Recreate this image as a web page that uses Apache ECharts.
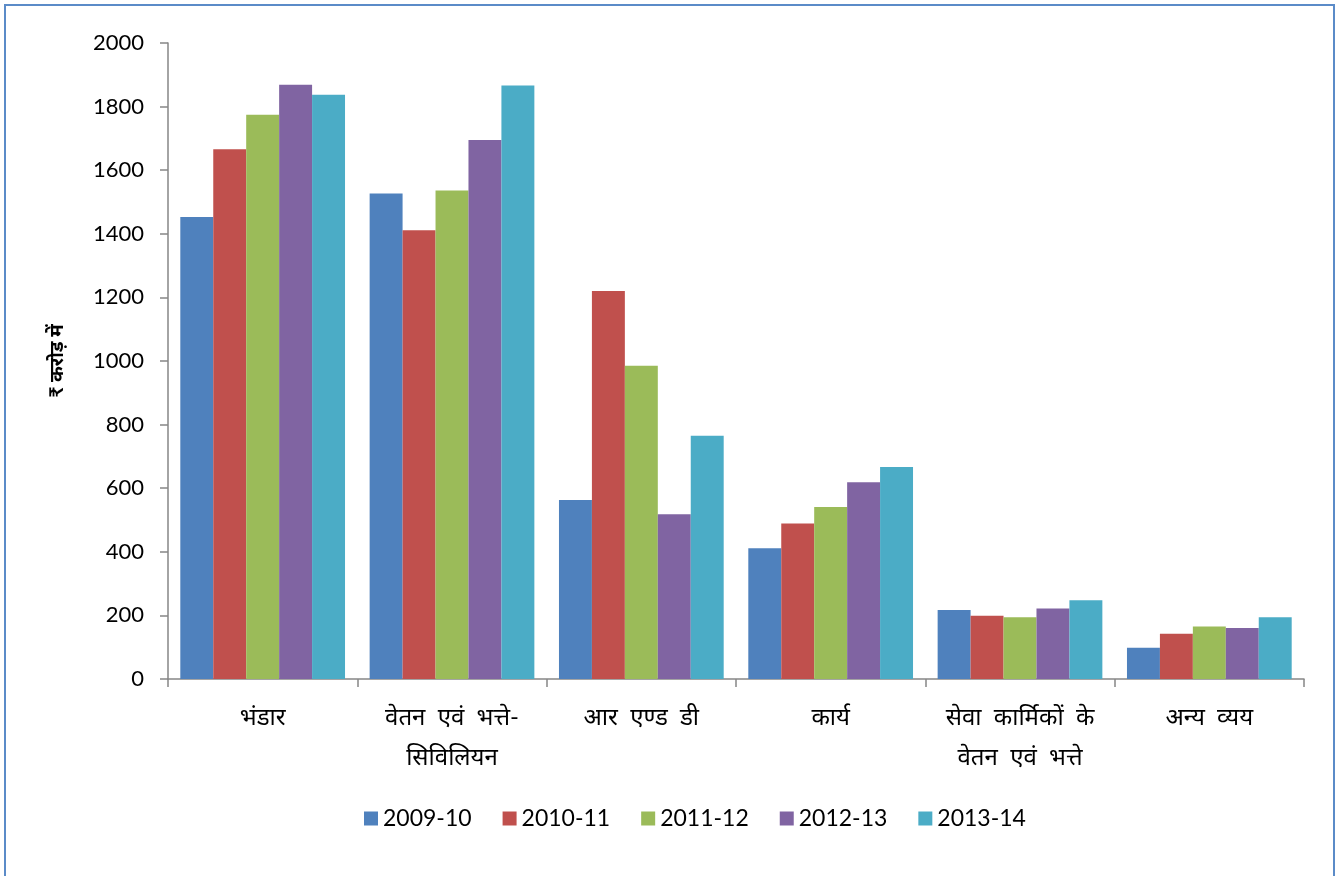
<!DOCTYPE html>
<html>
<head>
<meta charset="utf-8">
<title>व्यय</title>
<script src="https://cdn.jsdelivr.net/npm/echarts@6/dist/echarts.min.js"></script>
<style>
  html, body { margin: 0; padding: 0; background: #fff; }
  #chart { width: 1341px; height: 876px; }
</style>
</head>
<body>
<div id="chart"></div>
<script>
// Expenditure heads (two-line labels where the text wraps; wide word spacing)
const categories = [
  'भंडार',
  'वेतन  एवं  भत्ते-\nसिविलियन',
  'आर  एण्ड  डी',
  'कार्य',
  'सेवा  कार्मिकों  के\nवेतन  एवं  भत्ते',
  'अन्य  व्यय'
];

const years = ['2009-10', '2010-11', '2011-12', '2012-13', '2013-14'];

// ₹ crore, one array per year, in category order
const y2009_10 = [1453, 1527, 563, 411, 217, 98];
const y2010_11 = [1666, 1411, 1220, 489, 199, 142];
const y2011_12 = [1774, 1536, 985, 541, 194, 165];
const y2012_13 = [1869, 1695, 518, 619, 222, 160];
const y2013_14 = [1837, 1866, 765, 667, 248, 194];

const yTicks = { min: 0, max: 2000, interval: 200 };

const seriesValues = [y2009_10, y2010_11, y2011_12, y2012_13, y2013_14];
const colors = ['#4F81BD', '#C0504D', '#9BBB59', '#8064A2', '#4BACC6'];

const fontFamily = 'Lato, "Noto Sans", "Open Sans", sans-serif';
const axisGray = '#868686';

const chart = echarts.init(document.getElementById('chart'), null, { renderer: 'canvas' });

chart.setOption({
  animation: false,
  backgroundColor: '#ffffff',
  color: colors,
  textStyle: { fontFamily: fontFamily, color: '#000' },
  graphic: [{
    type: 'rect',
    shape: { x: 5, y: 5, width: 1329, height: 920 },
    style: { fill: 'none', stroke: '#5B8BC8', lineWidth: 2 },
    silent: true,
    z: -1
  }],
  grid: { left: 168, right: 37, top: 43, bottom: 197 },
  legend: {
    data: years,
    left: 359,
    top: 802,
    icon: 'rect',
    itemWidth: 14,
    itemHeight: 14,
    itemGap: 31,
    textStyle: { fontSize: 23, color: '#000', fontFamily: fontFamily }
  },
  xAxis: {
    type: 'category',
    data: categories,
    axisLine: { show: true, lineStyle: { color: axisGray, width: 1.5 } },
    axisTick: { show: true, alignWithLabel: false, length: 8, lineStyle: { color: axisGray, width: 1.5 } },
    axisLabel: {
      interval: 0,
      margin: 18,
      fontSize: 24,
      lineHeight: 40,
      color: '#000',
      fontFamily: fontFamily
    },
    splitLine: { show: false }
  },
  yAxis: {
    type: 'value',
    min: yTicks.min,
    max: yTicks.max,
    interval: yTicks.interval,
    name: '₹ करोड़ में',
    nameLocation: 'middle',
    nameRotate: 90,
    nameGap: 102,
    nameTextStyle: { fontSize: 19, fontWeight: 'bold', color: '#000', fontFamily: fontFamily },
    axisLine: { show: true, lineStyle: { color: axisGray, width: 1.5 } },
    axisTick: { show: true, length: 8, lineStyle: { color: axisGray, width: 1.5 } },
    axisLabel: {
      margin: 24,
      fontSize: 22,
      color: '#000',
      fontFamily: fontFamily,
      formatter: (v) => String(v)
    },
    splitLine: { show: false }
  },
  series: years.map((y, i) => ({
    name: y,
    type: 'bar',
    data: seriesValues[i],
    barGap: '0%',
    barCategoryGap: '13%',
    itemStyle: { color: colors[i] }
  }))
});
</script>
</body>
</html>
